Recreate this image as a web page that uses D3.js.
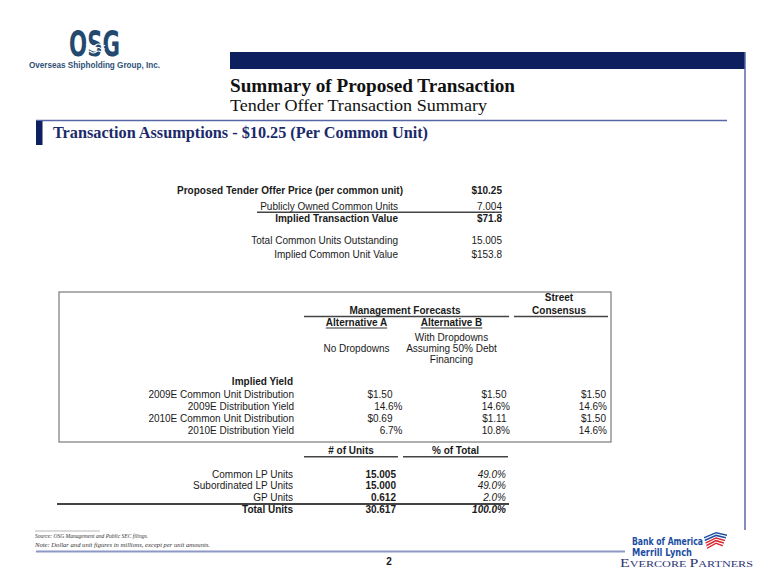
<!DOCTYPE html>
<html>
<head>
<meta charset="utf-8">
<script src="https://cdn.jsdelivr.net/npm/d3@7"></script>
<style>
body { margin: 0; background: #fff; }
svg { display: block; }
text { font-family: "Liberation Sans", Arial, sans-serif; fill: #1a1a1a; }
.serif { font-family: "Liberation Serif", "Times New Roman", serif; }
.narrow { font-family: "Liberation Sans Narrow", "DejaVu Sans Condensed", "Liberation Sans", sans-serif; }
</style>
</head>
<body>
<svg id="slide" width="780" height="585"></svg>
<script>

//////////////////////DATA//////////////////////////

// tender offer summary (top block)
var tenderLabels = ["Proposed Tender Offer Price (per common unit)", "Publicly Owned Common Units",
                    "Implied Transaction Value", "Total Common Units Outstanding", "Implied Common Unit Value"];
var tenderValues = [10.25, 7.004, 71.8, 15.005, 153.8];
var tenderFormats = ["$.2f", ".3f", "$.1f", ".3f", "$.1f"];

// implied yield block
var yieldLabels = ["2009E Common Unit Distribution", "2009E Distribution Yield",
                   "2010E Common Unit Distribution", "2010E Distribution Yield"];
var yieldKinds = ["$", "%", "$", "%"];
var altA = [1.50, 0.146, 0.69, 0.067];
var altB = [1.50, 0.146, 1.11, 0.108];
var street = [1.50, 0.146, 1.50, 0.146];

// unit breakdown block
var unitLabels = ["Common LP Units", "Subordinated LP Units", "GP Units", "Total Units"];
var unitCounts = [15.005, 15.000, 0.612, 30.617];
var unitShares = [0.490, 0.490, 0.020, 1.000];

var footnotes = ["Source: OSG Management and Public SEC filings.",
                 "Note: Dollar and unit figures in millions, except per unit amounts."];


//////////////////////HELPERS//////////////////////////

var svg = d3.select("#slide");
var navy = "#0d1f5e";
var rule = "#5767a6";

function txt(g, x, y, s, o) {
	o = o || {};
	var t = g.append("text")
		.attr("x", x)
		.attr("y", y)
		.attr("text-anchor", o.anchor || "start")
		.style("font-size", (o.size || 10) + "px")
		.text(s);
	if (o.weight) t.style("font-weight", o.weight);
	if (o.italic) t.style("font-style", "italic");
	if (o.fill) t.style("fill", o.fill);
	if (o.cls) t.attr("class", o.cls);
	if (o.len) t.attr("textLength", o.len).attr("lengthAdjust", "spacingAndGlyphs");
	return t;
}

function hline(g, x1, x2, y, w, c) {
	g.append("line")
		.attr("x1", x1).attr("x2", x2)
		.attr("y1", y).attr("y2", y)
		.style("stroke", c).style("stroke-width", w);
}

var fmtDollar = d3.format("$.2f");
var fmtPct = d3.format(".1%");


//////////////////////PAGE FRAME//////////////////////////

// OSG logo
var logo = svg.append("g");
txt(logo, 69, 55.5, "OSG", {size: 35, weight: "bold", fill: "#24496f", cls: "narrow", len: 51});
[45, 48.5, 52].forEach(function(y) {
	logo.append("path")
		.attr("d", "M86," + y + " q2.5,-2 5,0 t5,0 t5,0 t4,0")
		.style("fill", "none").style("stroke", "#fff").style("stroke-width", 1.1);
});
txt(logo, 29, 67.5, "Overseas Shipholding Group, Inc.", {size: 8.5, weight: "bold", fill: "#2f5176", len: 131});

// header bar and frame lines
svg.append("rect").attr("x", 230).attr("y", 52).attr("width", 515).attr("height", 17).style("fill", navy);
svg.append("line").attr("x1", 745).attr("x2", 745).attr("y1", 52).attr("y2", 530)
	.style("stroke", rule).style("stroke-width", 1.5);
hline(svg, 36, 727, 120.5, 1.5, rule);
svg.append("rect").attr("x", 36).attr("y", 121).attr("width", 6.5).attr("height", 24).style("fill", navy);

txt(svg, 230, 92, "Summary of Proposed Transaction", {size: 18, weight: "bold", cls: "serif", fill: "#111", len: 285});
txt(svg, 230, 111, "Tender Offer Transaction Summary", {size: 17, cls: "serif", fill: "#111", len: 257});
txt(svg, 53, 138, "Transaction Assumptions - $10.25 (Per Common Unit)",
	{size: 17, weight: "bold", cls: "serif", fill: "#1b2a6b", len: 375});


//////////////////////TENDER BLOCK//////////////////////////

var t1 = svg.append("g");
var t1Y = d3.scaleOrdinal().domain(d3.range(tenderLabels.length)).range([193.6, 210.3, 222, 243.6, 257.6]);
var t1Bold = [0, 2];

t1.selectAll(".lbl").data(tenderLabels).enter().append("text")
	.attr("class", "lbl")
	.attr("x", function(d, i) { return i == 0 ? 177 : 398; })
	.attr("y", function(d, i) { return t1Y(i); })
	.attr("text-anchor", function(d, i) { return i == 0 ? "start" : "end"; })
	.style("font-size", "10px")
	.style("font-weight", function(d, i) { return t1Bold.indexOf(i) >= 0 ? "bold" : "normal"; })
	.text(function(d) { return d; });

t1.selectAll(".val").data(tenderValues).enter().append("text")
	.attr("class", "val")
	.attr("x", 502)
	.attr("y", function(d, i) { return t1Y(i); })
	.attr("text-anchor", "end")
	.style("font-size", "10px")
	.style("font-weight", function(d, i) { return t1Bold.indexOf(i) >= 0 ? "bold" : "normal"; })
	.text(function(d, i) { return d3.format(tenderFormats[i])(d); });

hline(t1, 257, 502, 212.3, 1.6, "#444");


//////////////////////YIELD BLOCK//////////////////////////

var t2 = svg.append("g");
t2.append("rect").attr("x", 59).attr("y", 292).attr("width", 552).attr("height", 150)
	.style("fill", "none").style("stroke", "#7a7a7a").style("stroke-width", 1.2);

txt(t2, 559, 301, "Street", {weight: "bold", anchor: "middle"});
txt(t2, 559, 313.6, "Consensus", {weight: "bold", anchor: "middle"});
txt(t2, 405, 313.6, "Management Forecasts", {weight: "bold", anchor: "middle"});
hline(t2, 304, 509, 316.5, 1.6, "#444");
hline(t2, 514, 608, 316.5, 1.6, "#444");

var altHeads = ["Alternative A", "Alternative B"];
var altX = d3.scaleOrdinal().domain(altHeads).range([356.5, 451.5]);
altHeads.forEach(function(h) {
	var t = txt(t2, altX(h), 326.3, h, {weight: "bold", anchor: "middle"});
	var w = t.node().getComputedTextLength();
	hline(t2, altX(h) - w / 2, altX(h) + w / 2, 328, 0.9, "#1a1a1a");
});
txt(t2, altX("Alternative A"), 352, "No Dropdowns", {anchor: "middle"});
["With Dropdowns", "Assuming 50% Debt", "Financing"].forEach(function(s, i) {
	txt(t2, altX("Alternative B"), 341 + i * 11, s, {anchor: "middle"});
});

txt(t2, 293, 384.5, "Implied Yield", {weight: "bold", anchor: "end"});

var yRow = d3.scalePoint().domain(yieldLabels).range([397.6, 433.8]);
var colKeys = ["A", "B", "C"];
var colDollar = d3.scaleOrdinal().domain(colKeys).range([392.5, 506.5, 606]);
var colPct = d3.scaleOrdinal().domain(colKeys).range([402.5, 510, 607]);

t2.selectAll(".ylbl").data(yieldLabels).enter().append("text")
	.attr("class", "ylbl")
	.attr("x", 294)
	.attr("y", function(d) { return yRow(d); })
	.attr("text-anchor", "end")
	.style("font-size", "10px")
	.text(function(d) { return d; });

[altA, altB, street].forEach(function(series, c) {
	var key = colKeys[c];
	t2.selectAll(".yv" + key).data(series).enter().append("text")
		.attr("class", "yv" + key)
		.attr("x", function(d, i) { return yieldKinds[i] == "$" ? colDollar(key) : colPct(key); })
		.attr("y", function(d, i) { return yRow(yieldLabels[i]); })
		.attr("text-anchor", "end")
		.style("font-size", "10px")
		.text(function(d, i) { return yieldKinds[i] == "$" ? fmtDollar(d) : fmtPct(d); });
});


//////////////////////UNITS BLOCK//////////////////////////

var t3 = svg.append("g");
var unitHeads = ["# of Units", "% of Total"];
var headX = d3.scaleOrdinal().domain(unitHeads).range([351, 455.5]);
var headSpan = [[304, 398], [403, 508]];
unitHeads.forEach(function(h, i) {
	txt(t3, headX(h), 454, h, {weight: "bold", anchor: "middle"});
	hline(t3, headSpan[i][0], headSpan[i][1], 456.8, 1.6, "#444");
});

var uRow = d3.scalePoint().domain(unitLabels).range([477.6, 513.2]);
var lastUnit = unitLabels[unitLabels.length - 1];

t3.selectAll(".ulbl").data(unitLabels).enter().append("text")
	.attr("class", "ulbl")
	.attr("x", 293)
	.attr("y", function(d) { return uRow(d); })
	.attr("text-anchor", "end")
	.style("font-size", "10px")
	.style("font-weight", function(d) { return d == lastUnit ? "bold" : "normal"; })
	.text(function(d) { return d; });

t3.selectAll(".ucount").data(unitCounts).enter().append("text")
	.attr("class", "ucount")
	.attr("x", 396)
	.attr("y", function(d, i) { return uRow(unitLabels[i]); })
	.attr("text-anchor", "end")
	.style("font-size", "10px")
	.style("font-weight", "bold")
	.text(function(d) { return d3.format(".3f")(d); });

t3.selectAll(".ushare").data(unitShares).enter().append("text")
	.attr("class", "ushare")
	.attr("x", 506)
	.attr("y", function(d, i) { return uRow(unitLabels[i]); })
	.attr("text-anchor", "end")
	.style("font-size", "10px")
	.style("font-style", "italic")
	.style("font-weight", function(d, i) { return unitLabels[i] == lastUnit ? "bold" : "normal"; })
	.text(function(d) { return fmtPct(d); });

hline(t3, 57, 509, uRow(unitLabels[2]) + 2.6, 2, "#444");


//////////////////////FOOTER//////////////////////////

hline(svg, 35, 100, 531, 0.6, "#888");
footnotes.forEach(function(s, i) {
	txt(svg, 35, 537.5 + i * 9, s, {size: 6.5, italic: true, cls: "serif", fill: "#333", len: i == 0 ? 113 : 175});
});
hline(svg, 36, 625, 551.5, 2.2, "#8d98c6");
txt(svg, 389, 565, "2", {size: 10, weight: "bold", anchor: "middle"});

// Bank of America Merrill Lynch / Evercore Partners marks
var bofa = svg.append("g");
txt(bofa, 632, 545, "Bank of America", {size: 10.5, weight: "bold", fill: "#1b4ea3", cls: "narrow", len: 71});
txt(bofa, 632, 555.5, "Merrill Lynch", {size: 10, weight: "bold", fill: "#1b4ea3", cls: "narrow", len: 60});
var flag = [["#1b4ea3", 0], ["#1b4ea3", 2.6], ["#d8262f", 5.2], ["#d8262f", 7.8], ["#d8262f", 10.4]];
flag.forEach(function(f) {
	var y0 = 533 + f[1];
	bofa.append("path")
		.attr("d", "M" + (704 + f[1] * 0.3) + "," + (y0 + 4) + " L" + (716) + "," + (y0 - 1) +
			" L" + (727 - f[1] * 0.4) + "," + (y0 + 1.5) + " L" + (727 - f[1] * 0.4) + "," + (y0 + 3) +
			" L" + (716) + "," + (y0 + 0.6) + " L" + (704 + f[1] * 0.3) + "," + (y0 + 5.6) + " Z")
		.style("fill", f[0]);
});
var ev = bofa.append("text").attr("x", 620).attr("y", 567).attr("class", "serif")
	.style("fill", "#2e3472").attr("textLength", 133).attr("lengthAdjust", "spacingAndGlyphs");
[["E", 12], ["VERCORE ", 9.2], ["P", 12], ["ARTNERS", 9.2]].forEach(function(p) {
	ev.append("tspan").style("font-size", p[1] + "px").text(p[0]);
});

</script>
</body>
</html>
